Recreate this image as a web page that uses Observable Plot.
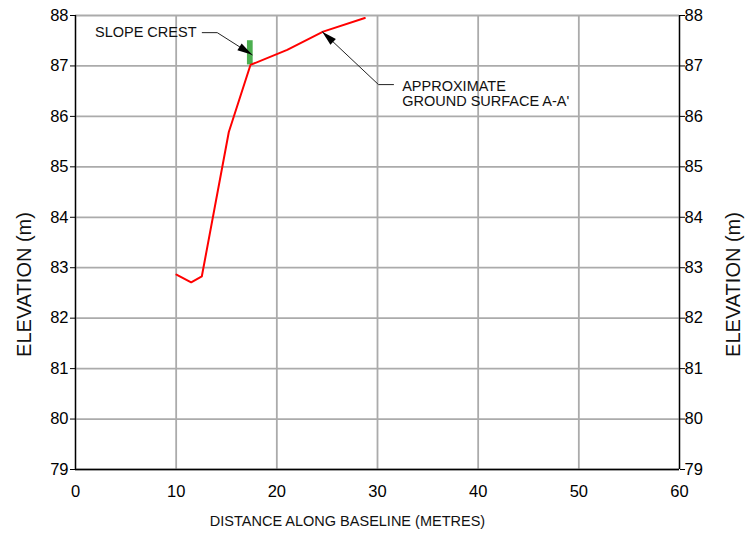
<!DOCTYPE html>
<html>
<head>
<meta charset="utf-8">
<script src="https://cdn.jsdelivr.net/npm/d3@7"></script>
<script src="https://cdn.jsdelivr.net/npm/@observablehq/plot@0.6"></script>
<style>
  html, body { margin: 0; padding: 0; background: #fff; }
  #chart svg { display: block; }
</style>
</head>
<body>
<div id="chart"></div>
<script>
// ---- Data ----
const profileX = [10.03, 11.49, 12.55, 15.23, 17.38, 21.03, 24.6, 28.74];
const profileY = [82.865, 82.71, 82.83, 85.69, 87.02, 87.32, 87.68, 87.95];

const crestBarX = [17.08, 17.65];
const crestBarY = [87.02, 87.50];

const xTicks = [0, 10, 20, 30, 40, 50, 60];
const yTicks = [79, 80, 81, 82, 83, 84, 85, 86, 87, 88];

const xTitle = "DISTANCE ALONG BASELINE (METRES)";
const yTitle = "ELEVATION (m)";

// annotations (data coordinates)
const crestLabel = "SLOPE CREST";
const crestLabelX = 12.02, crestLabelY = 87.66;
const crestLeaderX = [12.59, 14.08, 17.55];
const crestLeaderY = [87.66, 87.66, 87.22];

const groundLabels = ["APPROXIMATE", "GROUND SURFACE A-A'"];
const groundLabelX = [32.45, 32.45];
const groundLabelY = [86.59, 86.30];
const groundLeaderX = [31.59, 30.1, 24.51];
const groundLeaderY = [86.63, 86.63, 87.68];

// ---- Layout ----
const W = 752, H = 540;
const mL = 75, mR = 73, mT = 15, mB = 71;
const FONT = "'Liberation Sans', Arial, Helvetica, sans-serif";

const profile = profileX.map((x, i) => ({x, y: profileY[i]}));
const crestLeader = crestLeaderX.map((x, i) => ({x, y: crestLeaderY[i]}));
const groundLeader = groundLeaderX.map((x, i) => ({x, y: groundLeaderY[i]}));
const groundText = groundLabels.map((t, i) => ({t, x: groundLabelX[i], y: groundLabelY[i]}));

const kx = (W - mL - mR) / (xTicks[xTicks.length - 1] - xTicks[0]);
const ky = (H - mT - mB) / (yTicks[yTicks.length - 1] - yTicks[0]);
function headAngle(pts) {
  const a = pts[pts.length - 2], b = pts[pts.length - 1];
  const dxp = (b.x - a.x) * kx;
  const dyp = -(b.y - a.y) * ky;
  return Math.atan2(dxp, -dyp) * 180 / Math.PI;
}
const heads = [
  {x: crestLeader[2].x, y: crestLeader[2].y, r: headAngle(crestLeader)},
  {x: groundLeader[2].x, y: groundLeader[2].y, r: headAngle(groundLeader)}
];

const gridColor = "#ababab";

const chart = Plot.plot({
  width: W,
  height: H,
  marginLeft: mL,
  marginRight: mR,
  marginTop: mT,
  marginBottom: mB,
  style: {fontFamily: FONT, background: "#fff", color: "#000"},
  x: {domain: [0, 60]},
  y: {domain: [79, 88]},
  marks: [
    Plot.gridX(xTicks, {stroke: gridColor, strokeOpacity: 1, strokeWidth: 1.8}),
    Plot.gridY(yTicks, {stroke: gridColor, strokeOpacity: 1, strokeWidth: 1.8}),
    Plot.ruleX([0, 60], {stroke: "#000", strokeWidth: 1.3}),
    Plot.ruleY([79], {stroke: "#000", strokeWidth: 1.3}),
    Plot.axisY({anchor: "left", ticks: yTicks, tickSize: 5, tickPadding: 2, fontSize: 16.5, label: null, tickFormat: d => String(d)}),
    Plot.axisY({anchor: "right", ticks: yTicks, tickSize: 5, tickPadding: 0, fontSize: 16.5, label: null, tickFormat: d => String(d)}),
    Plot.axisX({anchor: "bottom", ticks: xTicks, tickSize: 0, tickPadding: 16, fontSize: 16.5, label: null, tickFormat: d => String(d)}),
    Plot.rect([0], {x1: () => crestBarX[0], x2: () => crestBarX[1], y1: () => crestBarY[0], y2: () => crestBarY[1], fill: "#4caf50"}),
    Plot.line(profile, {x: "x", y: "y", stroke: "#ff0000", strokeWidth: 2}),
    Plot.line(crestLeader, {x: "x", y: "y", stroke: "#222", strokeWidth: 1}),
    Plot.line(groundLeader, {x: "x", y: "y", stroke: "#222", strokeWidth: 1}),
    Plot.vector(heads, {x: "x", y: "y", rotate: "r", anchor: "end", shape: "spike", length: 15, r: 4, fill: "#000", stroke: "none"}),
    Plot.text([crestLabel], {x: () => crestLabelX, y: () => crestLabelY, text: d => d, textAnchor: "end", fontSize: 14.5, fill: "#111"}),
    Plot.text(groundText, {x: "x", y: "y", text: "t", textAnchor: "start", fontSize: 14.5, fill: "#111"}),
    Plot.text([yTitle], {frameAnchor: "left", dx: -51, dy: 42, rotate: -90, textAnchor: "middle", lineAnchor: "middle", text: d => d, fontSize: 20, fill: "#111"}),
    Plot.text([yTitle], {frameAnchor: "right", dx: 54, dy: 42, rotate: -90, textAnchor: "middle", lineAnchor: "middle", text: d => d, fontSize: 20, fill: "#111"}),
    Plot.text([xTitle], {frameAnchor: "bottom", dx: -30, dy: 52, textAnchor: "middle", lineAnchor: "middle", text: d => d, fontSize: 14.5, fill: "#111"})
  ]
});

document.getElementById("chart").appendChild(chart);
</script>
</body>
</html>
